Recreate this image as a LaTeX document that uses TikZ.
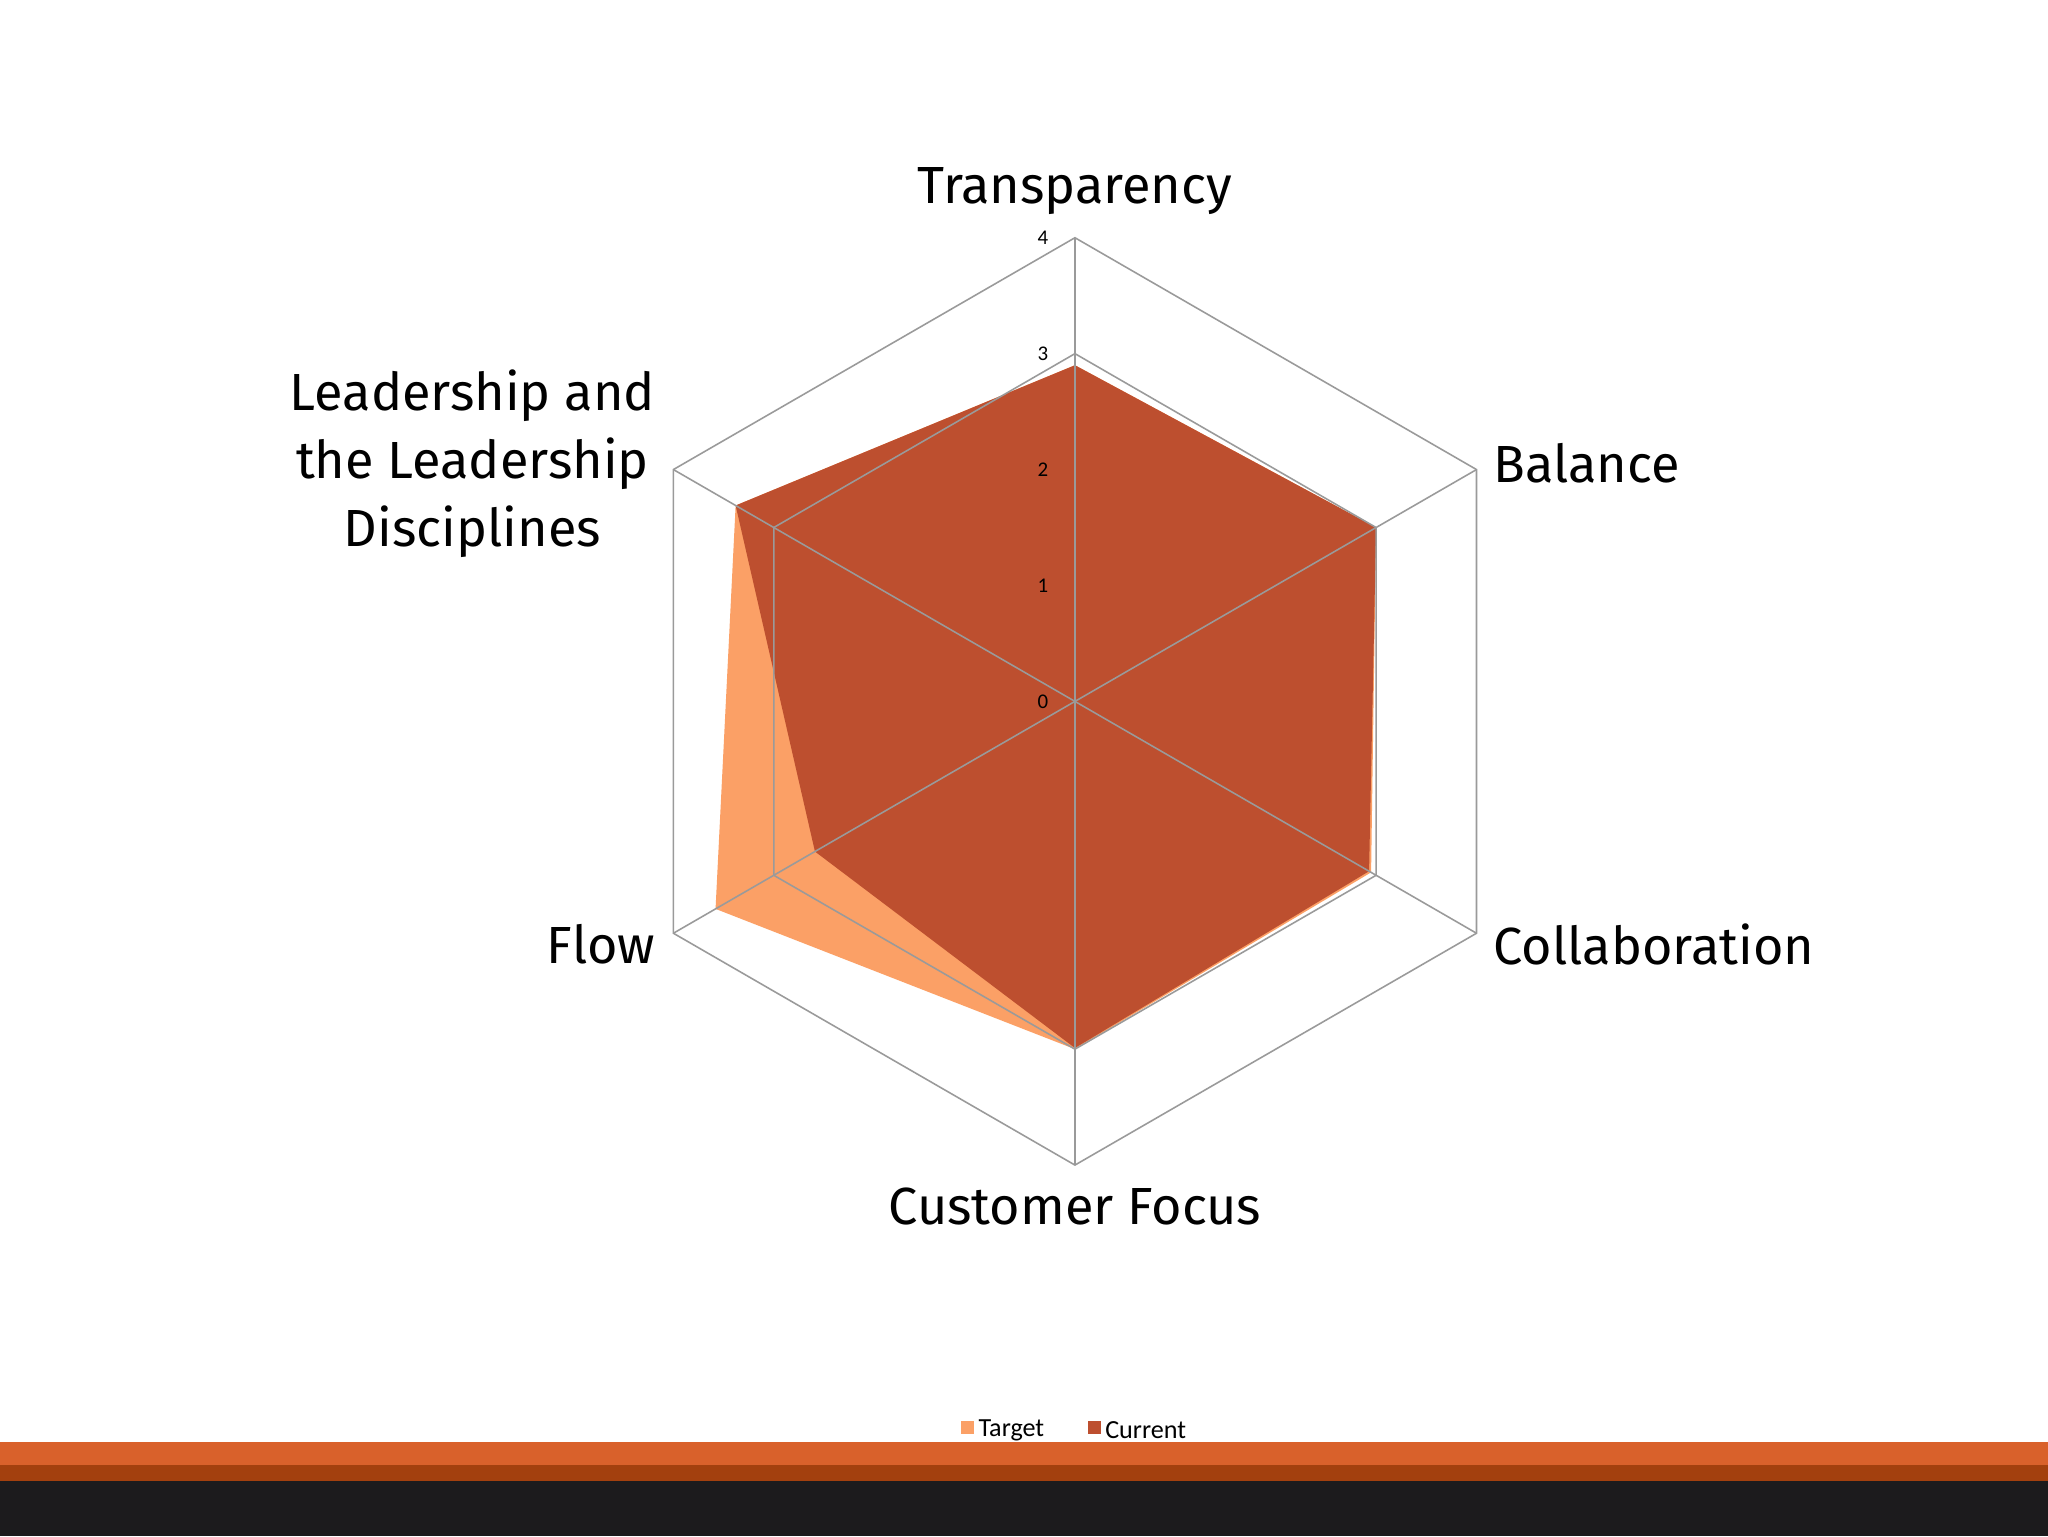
\documentclass[tikz,border=0pt]{standalone}
\usepackage{fontspec}
\usetikzlibrary{calc}
\setmainfont{Fira Sans}
\newfontfamily\legfont{Carlito}
\begin{document}
\begin{tikzpicture}[x=1pt,y=-1pt]
\definecolor{curc}{HTML}{BD4F2F}
\definecolor{tarc}{HTML}{FBA066}
\definecolor{gridc}{HTML}{9A9A9A}
\definecolor{barA}{HTML}{D9612B}
\definecolor{barB}{HTML}{A3400E}
\definecolor{barC}{HTML}{1C1B1D}
\tikzset{lab/.style={font=\fontsize{40}{52}\selectfont,align=center,text=black},
 tick/.style={font=\legfont\fontsize{16}{18}\selectfont,anchor=east},
 grid/.style={draw=gridc,line width=1.2pt}}
\useasboundingbox (0,0) rectangle (1568,1176);
\fill[white] (0,0) rectangle (1568,1176);
\coordinate (c) at (823,537);
\def\u{88.75}
\fill[tarc] ($(c)+(-90:{2.9*\u})$) -- ($(c)+(-30:{3.0*\u})$) -- ($(c)+(30:{2.95*\u})$) -- ($(c)+(90:{3.0*\u})$) -- ($(c)+(150:{3.58*\u})$) -- ($(c)+(210:{3.38*\u})$) -- cycle;
\fill[curc] ($(c)+(-90:{2.9*\u})$) -- ($(c)+(-30:{3.0*\u})$) -- ($(c)+(30:{2.93*\u})$) -- ($(c)+(90:{2.99*\u})$) -- ($(c)+(150:{2.59*\u})$) -- ($(c)+(210:{3.38*\u})$) -- cycle;
\foreach \r in {3,4}{
 \draw[grid] ($(c)+(-90:{\r*\u})$) \foreach \a in {-30,30,90,150,210}{ -- ($(c)+(\a:{\r*\u})$)} -- cycle;}
\foreach \a in {90,30,-30}{ \draw[grid] ($(c)+(\a:{-4*\u})$) -- ($(c)+(\a:{4*\u})$);}
\foreach \v in {0,...,4}{ \node[tick] (tk\v) at (806,{537-\v*\u}) {\v};}
\node[lab,anchor=south] (lT) at (823,168) {Transparency};
\node[lab,anchor=west] (lB) at (1140,355) {Balance};
\node[lab,anchor=west] (lC) at (1140,723) {Collaboration};
\node[lab,anchor=north] (lCF) at (823,906) {Customer Focus};
\node[lab,anchor=east] (lF) at (505,723) {Flow};
\node[lab,anchor=east] (lL) at (505,355) {Leadership and\\the Leadership\\Disciplines};
\fill[barA] (0,1104) rectangle (1568,1122);
\fill[barB] (0,1122) rectangle (1568,1134);
\fill[barC] (0,1134) rectangle (1568,1176);
\fill[tarc] (736,1088) rectangle (746,1098);
\node[font=\legfont\fontsize{20}{22}\selectfont,anchor=west,inner sep=1pt] (lt) at (748,1095) {Target};
\fill[curc] (833,1088) rectangle (843,1098);
\node[font=\legfont\fontsize{20}{22}\selectfont,anchor=west,inner sep=1pt] (lc) at (845,1095) {Current};
\end{tikzpicture}
\end{document}
